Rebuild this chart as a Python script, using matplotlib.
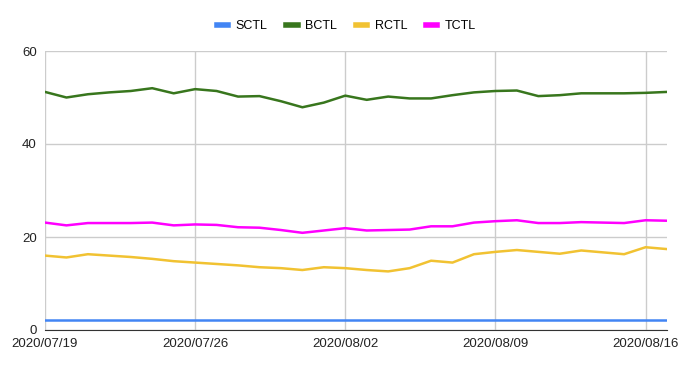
import numpy as np
import pandas as pd
import matplotlib
matplotlib.use("Agg")
import matplotlib.pyplot as plt
from matplotlib.lines import Line2D

plt.rcParams['font.family'] = ['Liberation Sans', 'DejaVu Sans']

# daily values 2020/07/19 .. 2020/08/17
dates = pd.date_range("2020-07-19", "2020-08-17", freq="D")
sctl = [2.1] * 30
bctl = [51.2, 50.0, 50.7, 51.1, 51.4, 52.0, 50.9, 51.8, 51.4, 50.2,
        50.3, 49.2, 47.9, 48.9, 50.4, 49.5, 50.2, 49.8, 49.8, 50.5,
        51.1, 51.4, 51.5, 50.3, 50.5, 50.9, 50.9, 50.9, 51.0, 51.2]
rctl = [16.0, 15.6, 16.3, 16.0, 15.7, 15.3, 14.8, 14.5, 14.2, 13.9,
        13.5, 13.3, 12.9, 13.5, 13.3, 12.9, 12.6, 13.3, 14.9, 14.5,
        16.3, 16.8, 17.2, 16.8, 16.4, 17.1, 16.7, 16.3, 17.8, 17.4]
tctl = [23.1, 22.5, 23.0, 23.0, 23.0, 23.1, 22.5, 22.7, 22.6, 22.1,
        22.0, 21.5, 20.9, 21.4, 21.9, 21.4, 21.5, 21.6, 22.3, 22.3,
        23.1, 23.4, 23.6, 23.0, 23.0, 23.2, 23.1, 23.0, 23.6, 23.5]

names = ["SCTL", "BCTL", "RCTL", "TCTL"]
colors = ["#4285f4", "#38761d", "#f1c232", "#ff00ff"]

tick_dates = pd.to_datetime(["2020-07-19", "2020-07-26", "2020-08-02", "2020-08-09", "2020-08-16"])
tick_labels = ["2020/07/19", "2020/07/26", "2020/08/02", "2020/08/09", "2020/08/16"]

fig = plt.figure(figsize=(6.86, 3.69), dpi=100)
ax = fig.add_axes([45/686, 1 - 330/369, 622/686, 279/369])

for vals, name, c in zip([sctl, bctl, rctl, tctl], names, colors):
    ax.plot(dates, vals, color=c, lw=1.8, label=name)

ax.set_xlim(dates[0], dates[-1])
ax.set_ylim(0, 60)
ax.set_yticks([0, 20, 40, 60])
ax.set_xticks(tick_dates)
ax.set_xticklabels(tick_labels)
ax.grid(True, color="#cccccc", lw=1)
ax.set_axisbelow(True)
for s in ["top", "right", "left"]:
    ax.spines[s].set_visible(False)
ax.spines["bottom"].set_color("#333333")
ax.tick_params(length=0, labelsize=9.5, colors="#222222")
ax.tick_params(axis="x", pad=6)
ax.tick_params(axis="y", pad=6)

handles = [Line2D([], [], color=c, lw=4) for c in colors]
fig.legend(handles, names, loc="center", bbox_to_anchor=(0.505, 1 - 26/369), ncol=4,
           frameon=False, fontsize=9, handlelength=0.9, columnspacing=1.5,
           handletextpad=0.6)

fig.savefig("out.png", dpi=100)
